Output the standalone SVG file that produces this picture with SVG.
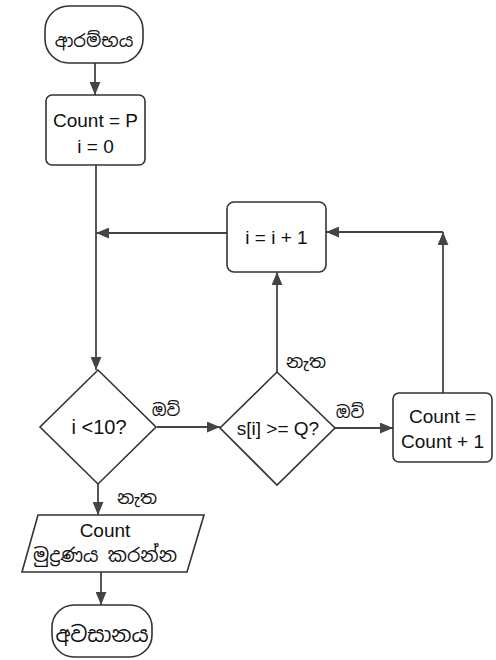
<svg xmlns="http://www.w3.org/2000/svg" width="496" height="660" viewBox="0 0 496 660">
<defs>
<marker id="ah" viewBox="0 0 12 10" refX="12" refY="5" markerWidth="13" markerHeight="11" markerUnits="userSpaceOnUse" orient="auto">
<path d="M0,0 L12,5 L0,10 Z" fill="#444"/>
</marker>
</defs>
<style>
.shape{fill:#fff;stroke:#333;stroke-width:1.6}
.edge{fill:none;stroke:#444;stroke-width:1.8}
.t{font-family:"Liberation Sans",Arial,sans-serif;font-size:19px;fill:#111;text-anchor:middle;dominant-baseline:central}
.si{font-family:"Noto Sans Sinhala","Noto Serif Sinhala","Iskoola Pota","Noto Sans",sans-serif;font-size:17px;fill:#111;text-anchor:middle;dominant-baseline:central}
</style>
<rect width="496" height="660" fill="#fff"/>
<g id="connectors">
<line class="edge" x1="95" y1="63" x2="95" y2="95" marker-end="url(#ah)"/>
<line class="edge" x1="96" y1="165" x2="96" y2="370" marker-end="url(#ah)"/>
<line class="edge" x1="227" y1="233" x2="96" y2="233" marker-end="url(#ah)"/>
<line class="edge" x1="157" y1="427" x2="220" y2="427" marker-end="url(#ah)"/>
<line class="edge" x1="335" y1="428" x2="393" y2="428" marker-end="url(#ah)"/>
<line class="edge" x1="277" y1="372" x2="277" y2="272" marker-end="url(#ah)"/>
<line class="edge" x1="443" y1="393" x2="443" y2="232" marker-end="url(#ah)"/>
<line class="edge" x1="443" y1="232" x2="326" y2="232" marker-end="url(#ah)"/>
<line class="edge" x1="98" y1="483" x2="98" y2="515" marker-end="url(#ah)"/>
<line class="edge" x1="101" y1="572" x2="101" y2="605" marker-end="url(#ah)"/>
<text class="si" x="166" y="410">ඔව්</text>
<text class="si" x="350" y="412">ඔව්</text>
<text class="si" x="137" y="497" style="font-size:18px">නැත</text>
<text class="si" x="306" y="361" style="font-size:18px">නැත</text>
</g>
<g id="start">
<rect class="shape" x="45" y="6" width="98" height="57" rx="24"/>
<text class="si" x="94" y="40" style="font-size:18px">ආරම්භය</text>
</g>
<g id="init">
<rect class="shape" x="46" y="95" width="99" height="70" rx="6"/>
<text class="t" x="95.5" y="120">Count = P</text>
<text class="t" x="95.5" y="146">i = 0</text>
</g>
<g id="incr">
<rect class="shape" x="227" y="202" width="99" height="70" rx="7"/>
<text class="t" x="276.5" y="237">i = i + 1</text>
</g>
<g id="cond1">
<polygon class="shape" points="98,370 156,427 98,484 40,427"/>
<text class="t" x="99" y="427" style="font-size:20px">i &lt;10?</text>
</g>
<g id="cond2">
<polygon class="shape" points="277,372 335,428 277,485 220,428"/>
<text class="t" x="278" y="428">s[i] &gt;= Q?</text>
</g>
<g id="count">
<rect class="shape" x="393" y="393" width="99" height="69" rx="6"/>
<text class="t" x="442.5" y="416">Count =</text>
<text class="t" x="442.5" y="441">Count + 1</text>
</g>
<g id="output">
<polygon class="shape" points="38,515 204,515 187,572 22,572"/>
<text class="t" x="105" y="530">Count</text>
<text class="si" x="105" y="555" style="font-size:19px">මුද්‍රණය කරන්න</text>
</g>
<g id="end">
<rect class="shape" x="52" y="605" width="100" height="52" rx="22"/>
<text class="si" x="102" y="634" style="font-size:21px">අවසානය</text>
</g>
</svg>
